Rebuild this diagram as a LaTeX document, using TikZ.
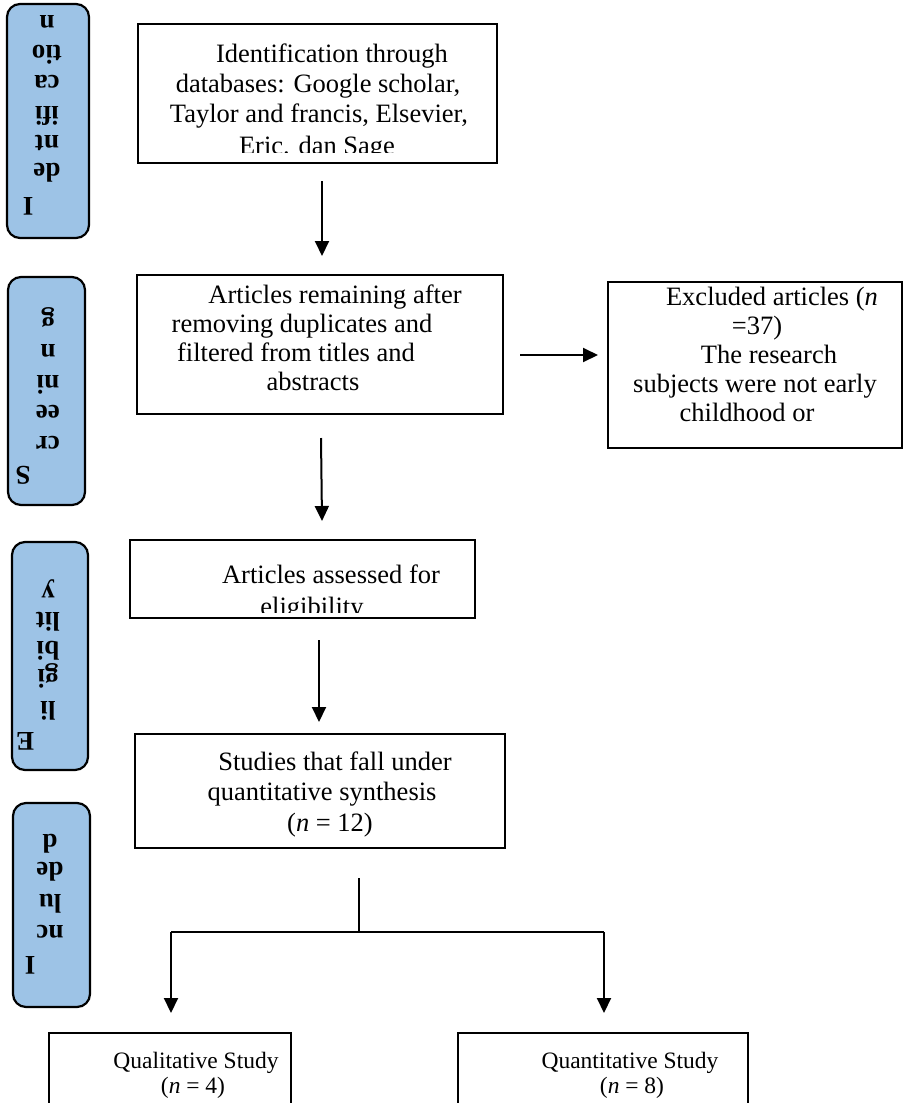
\documentclass[tikz,border=0pt]{standalone}
\usepackage{fontspec}
\setmainfont{Liberation Serif}
\usetikzlibrary{arrows.meta,calc}
\definecolor{sideblue}{HTML}{9DC3E6}
\begin{document}
\begin{tikzpicture}[x=1pt,y=-1pt,
  box/.style={draw=black,line width=2.5pt,fill=white,inner sep=0pt,outer sep=0pt},
  sidebox/.style={draw=black,line width=2.2pt,fill=sideblue,rounded corners=13pt,inner sep=0pt,outer sep=0pt},
  txt/.style={font=\fontsize{26.5}{30}\selectfont,inner sep=0pt,anchor=base},
  btxt/.style={font=\fontsize{23.5}{27}\selectfont,inner sep=0pt,anchor=base},
  stxt/.style={font=\fontsize{27}{30}\selectfont\bfseries,inner sep=0pt,anchor=base,rotate=180},
  arr/.style={line width=2pt,-{Triangle[length=15pt,width=14pt]}},
  conn/.style={line width=2pt}
]
\clip (0,0) rectangle (905,1103);
\fill[white] (0,0) rectangle (905,1103);

% side stage boxes
\node[sidebox,minimum width=82pt,minimum height=234pt] (s1) at (48,121) {};
\node[sidebox,minimum width=77pt,minimum height=228pt] (s2) at (46.5,391) {};
\node[sidebox,minimum width=76pt,minimum height=228pt] (s3) at (50,656) {};
\node[sidebox,minimum width=77pt,minimum height=204pt] (s4) at (51.5,905) {};

\node[stxt] (s1a) at (47,15) {n};
\node[stxt] (s1b) at (47,45) {tio};
\node[stxt] (s1c) at (47,75) {ca};
\node[stxt] (s1d) at (47,106) {ifi};
\node[stxt] (s1e) at (47,135) {nt};
\node[stxt] (s1f) at (47,163) {de};
\node[stxt] (s1g) at (28,197) {I};

\node[stxt] (s2a) at (48,313) {g};
\node[stxt] (s2b) at (48,344) {n};
\node[stxt] (s2c) at (48,375) {ni};
\node[stxt] (s2d) at (48,405) {ee};
\node[stxt] (s2e) at (48,436) {cr};
\node[stxt] (s2f) at (23,466) {S};

\node[stxt] (s3a) at (48,585) {y};
\node[stxt] (s3b) at (48,612) {lit};
\node[stxt] (s3c) at (48,641) {bi};
\node[stxt] (s3d) at (48,669) {gi};
\node[stxt] (s3e) at (48,701) {li};
\node[stxt] (s3f) at (25,732) {E};

\node[stxt] (s4a) at (50,834) {d};
\node[stxt] (s4b) at (50,862) {de};
\node[stxt] (s4c) at (50,894) {lu};
\node[stxt] (s4d) at (50,925) {nc};
\node[stxt] (s4e) at (30,956) {I};

% main boxes
\node[box,minimum width=359pt,minimum height=139pt] (b1) at (317.5,93.5) {};
\node[box,minimum width=366pt,minimum height=139pt] (b2) at (320,344.5) {};
\node[box,minimum width=294pt,minimum height=166pt] (ex) at (755,365) {};
\node[box,minimum width=345pt,minimum height=78pt] (b3) at (302.5,579) {};
\node[box,minimum width=370pt,minimum height=114pt] (b4) at (320,791) {};
\node[box,minimum width=242pt,minimum height=100pt] (q1) at (170,1083) {};
\node[box,minimum width=290pt,minimum height=100pt] (q2) at (603,1083) {};

% texts
\begin{scope}
\clip (140,26) rectangle (495,152);
\node[txt] (t1a) at (332,62) {Identification through};
\node[txt] (t1b) at (318,92) {databases: Google scholar,};
\node[txt] (t1c) at (319,122) {Taylor and francis, Elsevier,};
\node[txt] (t1d) at (317,154) {Eric. dan Sage};
\end{scope}

\node[txt] (t2a) at (335,303) {Articles remaining after};
\node[txt] (t2b) at (302,332) {removing duplicates and};
\node[txt] (t2c) at (296,361) {filtered from titles and};
\node[txt] (t2d) at (313,390) {abstracts};

\node[txt] (tea) at (772,305) {Excluded articles (\textit{n}};
\node[txt] (teb) at (757,334) {=37)};
\node[txt] (tec) at (769,363) {The research};
\node[txt] (ted) at (755,392) {subjects were not early};
\node[txt] (tee) at (747,421) {childhood or};

\begin{scope}
\clip (132,542) rectangle (473,612);
\node[txt] (t3a) at (331,583) {Articles assessed for};
\node[txt] (t3b) at (312,615) {eligibility};
\end{scope}

\node[txt] (t4a) at (335,770) {Studies that fall under};
\node[txt] (t4b) at (322,800) {quantitative synthesis};
\node[txt] (t4c) at (330,831) {(\textit{n} = 12)};

\node[btxt] (tq1a) at (196,1068) {Qualitative Study};
\node[btxt] (tq1b) at (193,1093) {(\textit{n} = 4)};
\node[btxt] (tq2a) at (630,1068) {Quantitative Study};
\node[btxt] (tq2b) at (632,1093) {(\textit{n} = 8)};

% connectors
\draw[arr] ([xshift=4.5pt,yshift=-18pt]b1.south) -- ([xshift=2pt,yshift=19pt]b2.north);
\draw[arr] ([xshift=17pt,yshift=-10.5pt]b2.east) -- ([xshift=-10pt,yshift=-10.5pt]b2.east -| ex.west);
\draw[arr] ([xshift=1pt,yshift=-24pt]b2.south) -- ([xshift=19.5pt,yshift=19pt]b3.north);
\draw[arr] ([xshift=16.5pt,yshift=-22pt]b3.south) -- ([xshift=-1pt,yshift=12pt]b4.north);

\coordinate (split) at (359,932);
\coordinate (sl) at (171,932);
\coordinate (sr) at (604,932);
\draw[conn] ([xshift=39pt,yshift=-30pt]b4.south) -- (split);
\draw[conn] (sl) -- (sr);
\draw[arr] (sl) -- ([yshift=20pt]sl |- q1.north);
\draw[arr] (sr) -- ([yshift=20pt]sr |- q2.north);
\end{tikzpicture}
\end{document}
